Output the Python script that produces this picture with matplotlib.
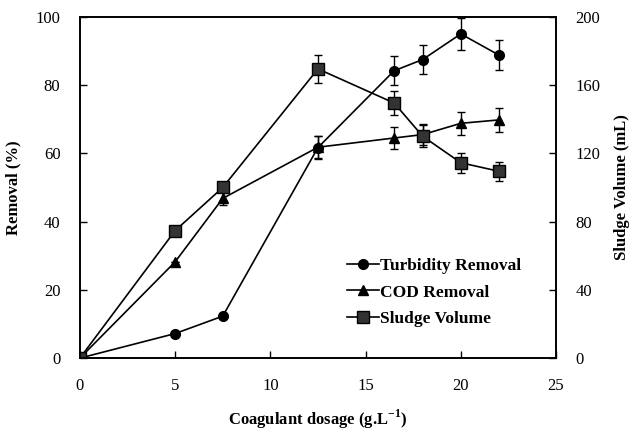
import matplotlib.pyplot as plt
from matplotlib.lines import Line2D

dosage = [0, 5, 7.5, 12.5, 16.5, 18, 20, 22]
turbidity = [0, 7.2, 12.3, 61.7, 84.2, 87.5, 95, 88.8]
turbidity_err = [0, 0, 0, 3.3, 4.2, 4.2, 4.6, 4.5]
cod = [0, 28.2, 46.8, 61.8, 64.5, 65.5, 68.8, 69.8]
cod_err = [0, 0, 2.0, 3.3, 3.3, 3.0, 3.4, 3.4]
sludge = [0, 74.7, 100, 169.5, 149.5, 130, 114.5, 109.5]
sludge_err = [0, 0, 0, 8.3, 7.3, 6.5, 6, 5.7]
labels = ['Turbidity Removal', 'COD Removal', 'Sludge Volume']

plt.rcParams['font.family'] = ['Liberation Serif', 'DejaVu Serif']

fig = plt.figure(figsize=(6.29, 4.32), dpi=100)
ax = fig.add_axes([0.127, 0.171, 0.757, 0.790])
ax2 = ax.twinx()

eb = dict(capsize=3, elinewidth=1, capthick=1, ecolor='black', color='black', lw=1.2)
ax.errorbar(dosage, turbidity, yerr=turbidity_err, marker='o', ms=7, mfc='black', mec='black', **eb)
ax.errorbar(dosage, cod, yerr=cod_err, marker='^', ms=7, mfc='black', mec='black', **eb)
ax2.errorbar(dosage, sludge, yerr=sludge_err, marker='s', ms=8, mfc='#333333', mec='black', **eb)

ax.set_xlim(0, 25)
ax.set_ylim(0, 100)
ax2.set_ylim(0, 200)
ax.set_xticks([0, 5, 10, 15, 20, 25])
ax.set_yticks([0, 20, 40, 60, 80, 100])
ax2.set_yticks([0, 40, 80, 120, 160, 200])

for a in (ax, ax2):
    a.tick_params(direction='in', length=5, width=1, labelsize=12, pad=14)
    for s in a.spines.values():
        s.set_linewidth(1.2)

ax.set_xlabel('Coagulant dosage (g.L$^{\\mathregular{-1}}$)', fontsize=12, fontweight='bold', labelpad=10)
ax.set_ylabel('Removal (%)', fontsize=12, fontweight='bold', labelpad=10)
ax2.set_ylabel('Sludge Volume (mL)', fontsize=12, fontweight='bold', labelpad=10)

handles = [
    Line2D([], [], color='black', lw=1.2, marker='o', ms=7, mfc='black', mec='black'),
    Line2D([], [], color='black', lw=1.2, marker='^', ms=7, mfc='black', mec='black'),
    Line2D([], [], color='black', lw=1.2, marker='s', ms=8, mfc='#333333', mec='black'),
]
ax.legend(handles, labels, loc='lower right', bbox_to_anchor=(0.96, 0.045), frameon=False,
          prop={'weight': 'bold', 'size': 12.5}, handlelength=1.8, handletextpad=0.1,
          labelspacing=0.6)

fig.savefig('out.png', dpi=100)
